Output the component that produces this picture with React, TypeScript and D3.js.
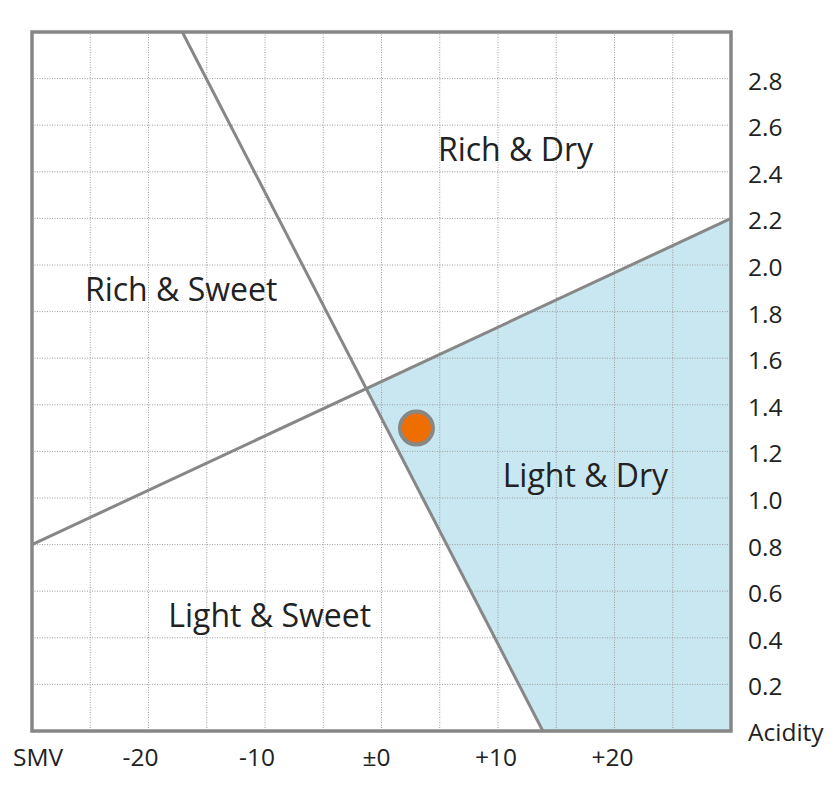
import React from "react";
import * as d3 from "d3";

// ---- data ----
const xDomain: [number, number] = [-30, 30];
const yDomain: [number, number] = [0, 3];
const xGridValues = [-25, -20, -15, -10, -5, 0, 5, 10, 15, 20, 25];
const yGridValues = [0.2, 0.4, 0.6, 0.8, 1.0, 1.2, 1.4, 1.6, 1.8, 2.0, 2.2, 2.4, 2.6, 2.8];
const xTickValues = [-20, -10, 0, 10, 20];
const xTickLabels = ["-20", "-10", "±0", "+10", "+20"];
const yTickValues = [0.2, 0.4, 0.6, 0.8, 1.0, 1.2, 1.4, 1.6, 1.8, 2.0, 2.2, 2.4, 2.6, 2.8];
const yTickLabels = ["0.2", "0.4", "0.6", "0.8", "1.0", "1.2", "1.4", "1.6", "1.8", "2.0", "2.2", "2.4", "2.6", "2.8"];
// dividing lines: [smv, acidity] endpoints
const richLightLine: [number, number][] = [[-30, 0.8], [30, 2.2]];
const sweetDryLine: [number, number][] = [[-17.1, 3.0], [13.85, 0]];
// sake sample
const sampleSMV = [3];
const sampleAcidity = [1.3];
// region labels
const regionNames = ["Rich & Dry", "Rich & Sweet", "Light & Dry", "Light & Sweet"];
const regionSMV = [11.5, -17.2, 17.5, -9.6];
const regionAcidity = [2.5, 1.9, 1.1, 0.5];

const W = 840;
const H = 788;
const FONT = "'Open Sans', 'Noto Sans', sans-serif";

function intersect(a: [number, number][], b: [number, number][]): [number, number] {
  const [x1, y1] = a[0], [x2, y2] = a[1];
  const [x3, y3] = b[0], [x4, y4] = b[1];
  const den = (x1 - x2) * (y3 - y4) - (y1 - y2) * (x3 - x4);
  const t = ((x1 - x3) * (y3 - y4) - (y1 - y3) * (x3 - x4)) / den;
  return [x1 + t * (x2 - x1), y1 + t * (y2 - y1)];
}

export default function App() {
  const x = d3.scaleLinear().domain(xDomain).range([32, 731]);
  const y = d3.scaleLinear().domain(yDomain).range([731, 32]);
  const line = d3
    .line<[number, number]>()
    .x((d) => x(d[0]))
    .y((d) => y(d[1]));

  const cross = intersect(richLightLine, sweetDryLine);
  const bottomPt = sweetDryLine[1];
  const polyPts: [number, number][] = [
    cross,
    richLightLine[1],
    [xDomain[1], yDomain[0]],
    bottomPt,
  ];
  const poly = line(polyPts) + "Z";

  const gridColor = "#9c9c9c";
  const frameColor = "#878787";

  return (
    <svg
      width={W}
      height={H}
      style={{ position: "absolute", left: 0, top: 0, background: "#fff" }}
      fontFamily={FONT}
    >
      <rect x={0} y={0} width={W} height={H} fill="#fff" />
      <path d={poly} fill="#c9e7f1" />
      {xGridValues.map((v) => (
        <line
          key={"gx" + v}
          x1={x(v)}
          x2={x(v)}
          y1={y(yDomain[1])}
          y2={y(yDomain[0])}
          stroke={gridColor}
          strokeWidth={1}
          strokeDasharray="1,1.5"
        />
      ))}
      {yGridValues.map((v) => (
        <line
          key={"gy" + v}
          x1={x(xDomain[0])}
          x2={x(xDomain[1])}
          y1={y(v)}
          y2={y(v)}
          stroke={gridColor}
          strokeWidth={1}
          strokeDasharray="1,1.5"
        />
      ))}
      <path d={line(richLightLine) || ""} stroke={frameColor} strokeWidth={3} fill="none" />
      <path d={line(sweetDryLine) || ""} stroke={frameColor} strokeWidth={3} fill="none" />
      <rect
        x={x(xDomain[0])}
        y={y(yDomain[1])}
        width={x(xDomain[1]) - x(xDomain[0])}
        height={y(yDomain[0]) - y(yDomain[1])}
        fill="none"
        stroke={frameColor}
        strokeWidth={3.5}
      />
      {sampleSMV.map((s, i) => (
        <circle
          key={"pt" + i}
          cx={x(s)}
          cy={y(sampleAcidity[i])}
          r={16.5}
          fill="#ee6f00"
          stroke={frameColor}
          strokeWidth={4}
        />
      ))}
      {regionNames.map((n, i) => (
        <text
          key={n}
          x={x(regionSMV[i])}
          y={y(regionAcidity[i])}
          textAnchor="middle"
          dominantBaseline="central"
          fontSize={32}
          fill="#222"
        >
          {n}
        </text>
      ))}
      {xTickValues.map((v, i) => {
        const lab = xTickLabels[i];
        const dx = lab.startsWith("-") ? -8 : lab.startsWith("±") ? -5 : -2;
        return (
          <text
            key={"xt" + v}
            x={x(v) + dx}
            y={766}
            textAnchor="middle"
            fontSize={24.5}
            fill="#222"
          >
            {lab}
          </text>
        );
      })}
      <text x={13} y={766} fontSize={24.5} fill="#222">
        SMV
      </text>
      {yTickValues.map((v, i) => (
        <text
          key={"yt" + v}
          x={748}
          y={y(v) + 1.5}
          dominantBaseline="central"
          fontSize={24.5}
          fill="#222"
        >
          {yTickLabels[i]}
        </text>
      ))}
      <text x={748} y={y(0)} dominantBaseline="central" fontSize={24.5} fill="#222">
        Acidity
      </text>
    </svg>
  );
}
